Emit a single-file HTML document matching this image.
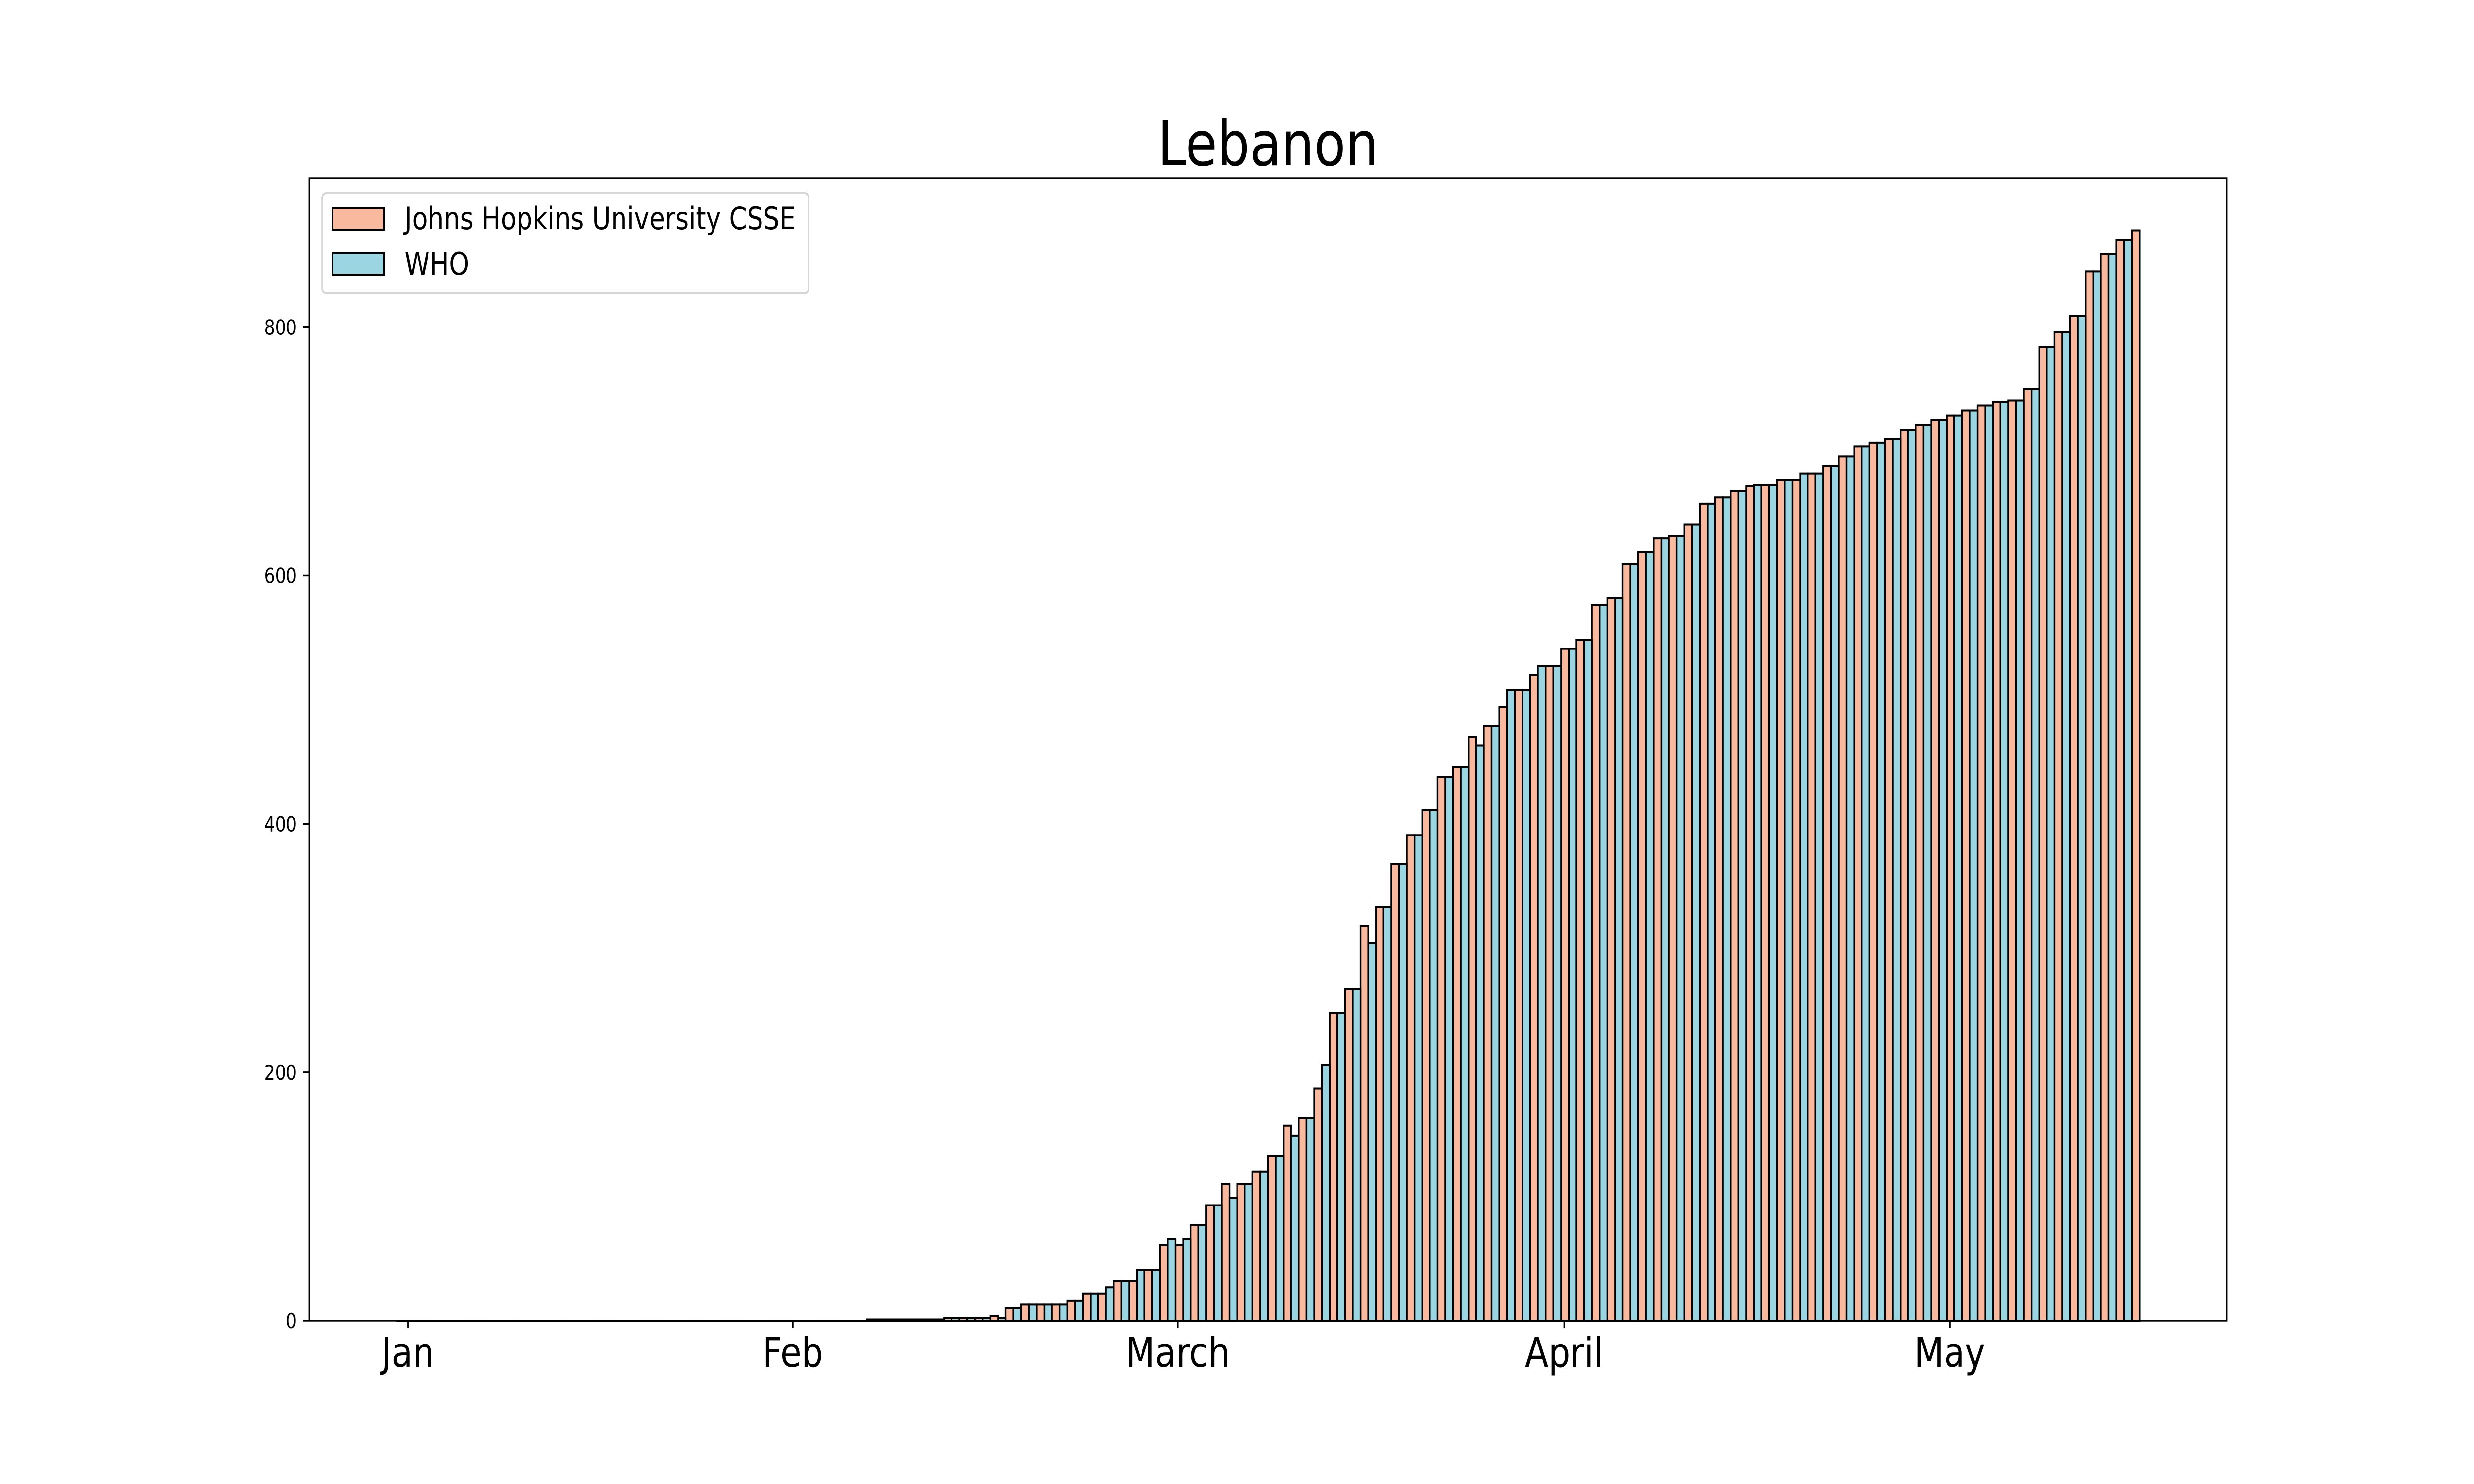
<!DOCTYPE html>
<html><head><meta charset="utf-8"><title>Lebanon</title>
<style>
html,body{margin:0;padding:0;background:#fff;width:100%;height:100%;overflow:hidden;}
svg{display:block;width:100vw;height:100vh;font-family:"DejaVu Sans","Liberation Sans",sans-serif;}
</style></head>
<body>
<svg id="chart" xmlns="http://www.w3.org/2000/svg" viewBox="0 0 6000 3000" preserveAspectRatio="none">
<rect x="0" y="0" width="6000" height="3000" fill="#ffffff"/>
<text x="3075" y="334" font-size="125" text-anchor="middle">Lebanon</text>
<g id="bars"></g>
<g id="axes"></g>
<g>
  <rect x="781" y="391" width="1180" height="202" rx="10" ry="10" fill="#ffffff" fill-opacity="0.8" stroke="#d6d6d6" stroke-width="4"/>
  <rect x="806" y="420" width="126" height="44" fill="#f8b99e" stroke="#000" stroke-width="4"/>
  <text x="981" y="463" font-size="62">Johns Hopkins University CSSE</text>
  <rect x="806" y="511" width="126" height="44" fill="#9bd5e2" stroke="#000" stroke-width="4"/>
  <text x="981" y="555" font-size="62">WHO</text>
</g>
</svg>
<script>
// day index 0 = Jan 21 ... 113 = May 13
const jhuLead = [null].concat(new Array(30).fill(0));
const jhuCases = jhuLead.concat([1,1,1,1,1,2,2,2,4,10,13,13,13,16,22,22,32,32,41,61,61,77,93,110,110,120,133,157,163,187,248,267,318,333,368,391,411,438,446,470,479,494,508,520,527,541,548,576,582,609,619,630,632,641,658,663,668,672,673,677,677,682,688,696,704,707,710,717,721,725,729,733,737,740,741,750,784,796,809,845,859,870,878]);
const whoLead = new Array(31).fill(0);
const whoCases = whoLead.concat([1,1,1,1,1,2,2,2,2,10,13,13,13,16,22,27,32,41,41,66,66,77,93,99,110,120,133,149,163,206,248,267,304,333,368,391,411,438,446,463,479,508,508,527,527,541,548,576,582,609,619,630,632,641,658,663,668,673,673,677,682,682,688,696,704,707,710,717,721,725,729,733,737,740,741,750,784,796,809,845,859,870,null]);
const yTicks = [0,200,400,600,800];
const xTickPos = [1.25,26.2,51.15,76.2,101.2];
const xTickLabels = ["Jan","Feb","March","April","May"];

const AX_L=750, AX_R=5400, AX_T=360, AX_B=2670;
const X_MIN=0.5-5.65, X_MAX=113.5+5.65, Y_MAX=920;
function xs(u){return AX_L+(u-X_MIN)/(X_MAX-X_MIN)*(AX_R-AX_L);}
function ys(v){return AX_B-v/Y_MAX*(AX_B-AX_T);}
const NS="http://www.w3.org/2000/svg";
const bars=document.getElementById('bars');
const axes=document.getElementById('axes');
function bar(day,off,v,fill,name){
  if(v===null||v===undefined) return;
  const x0=xs(day+off), x1=xs(day+off+0.5), y0=ys(0), y1=ys(v);
  const p=document.createElementNS(NS,'path');
  p.setAttribute('d','M'+x0+' '+y0+'H'+x1+'V'+y1+'H'+x0+'Z');
  p.setAttribute('fill',fill);
  p.setAttribute('stroke','#000');
  p.setAttribute('stroke-width','4');
  
  
  bars.appendChild(p);
}
for(let d=0; d<jhuCases.length; d++){ bar(d,0,jhuCases[d],'#f8b99e','jhu-bar'); }
for(let d=0; d<whoCases.length; d++){ bar(d,0.5,whoCases[d],'#9bd5e2','who-bar'); }

const frame=document.createElementNS(NS,'rect');
frame.setAttribute('x',AX_L);frame.setAttribute('y',AX_T);
frame.setAttribute('width',AX_R-AX_L);frame.setAttribute('height',AX_B-AX_T);
frame.setAttribute('fill','none');frame.setAttribute('stroke','#000');frame.setAttribute('stroke-width','3.4');


axes.appendChild(frame);

yTicks.forEach(function(t){
  const y=ys(t);
  const l=document.createElementNS(NS,'line');
  l.setAttribute('x1',AX_L-15);l.setAttribute('x2',AX_L);l.setAttribute('y1',y);l.setAttribute('y2',y);
  l.setAttribute('stroke','#000');l.setAttribute('stroke-width','3.4');
  
  
  axes.appendChild(l);
  const tx=document.createElementNS(NS,'text');
  tx.setAttribute('x',AX_L-30);tx.setAttribute('y',y+15);
  tx.setAttribute('font-size','41.7');tx.setAttribute('text-anchor','end');
  tx.textContent=String(t);
  
  
  axes.appendChild(tx);
});
xTickPos.forEach(function(u,i){
  const x=xs(u);
  const l=document.createElementNS(NS,'line');
  l.setAttribute('x1',x);l.setAttribute('x2',x);l.setAttribute('y1',AX_B);l.setAttribute('y2',AX_B+15);
  l.setAttribute('stroke','#000');l.setAttribute('stroke-width','3.4');
  
  
  axes.appendChild(l);
  const tx=document.createElementNS(NS,'text');
  tx.setAttribute('x',x);tx.setAttribute('y',2763);
  tx.setAttribute('font-size','83');tx.setAttribute('text-anchor','middle');
  tx.textContent=xTickLabels[i];
  
  
  axes.appendChild(tx);
});
</script>
</body></html>
